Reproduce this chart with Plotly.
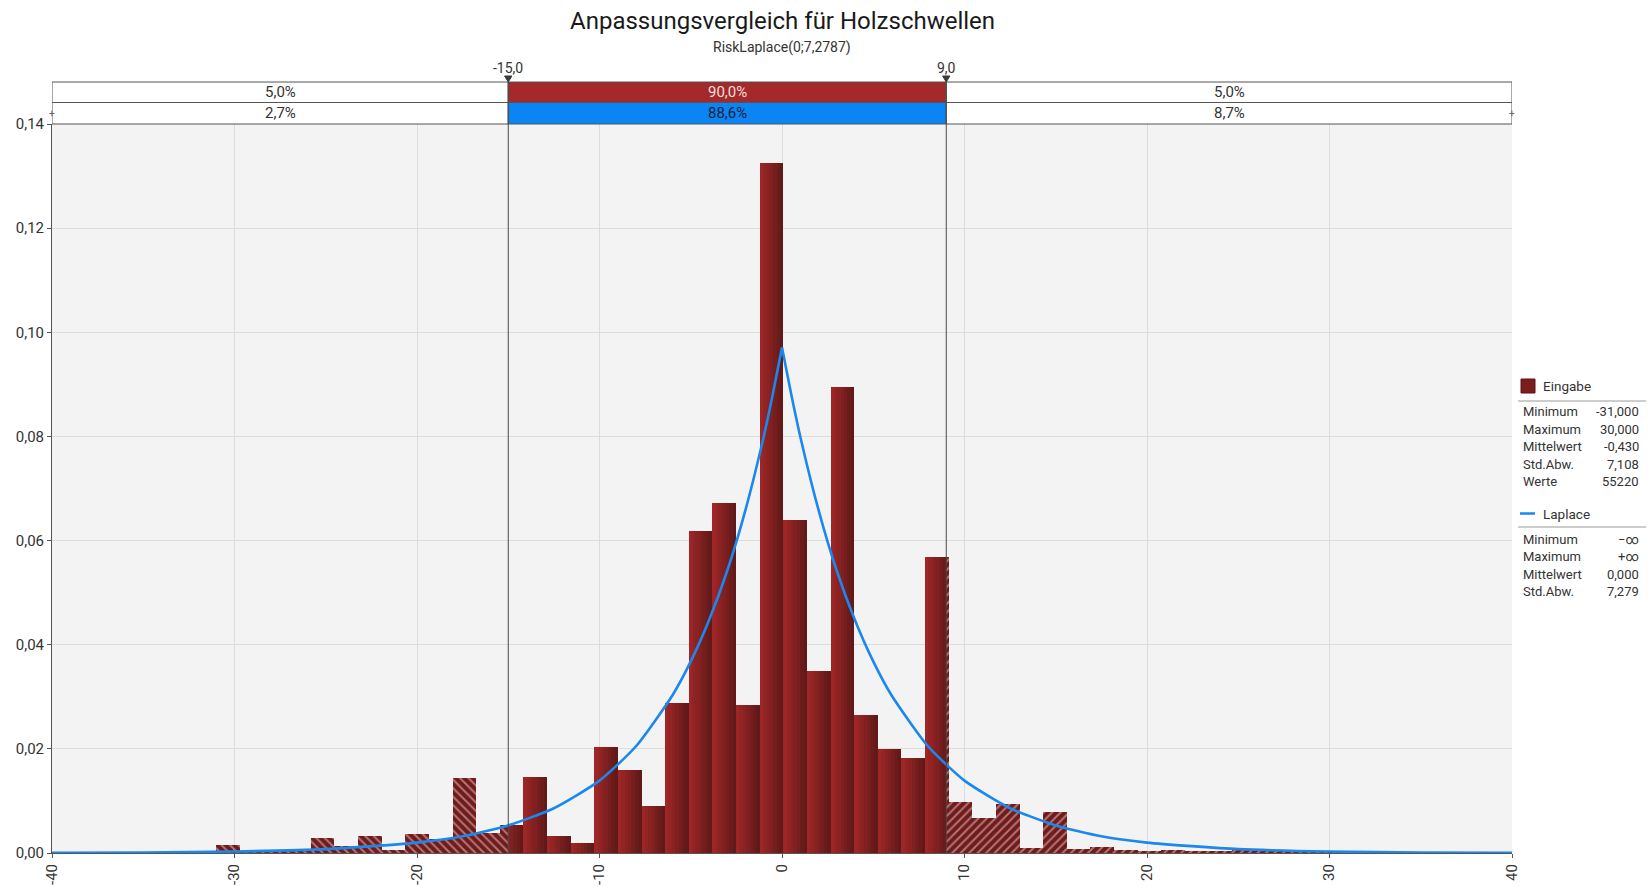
import plotly.graph_objects as go

# ---------------- data ----------------
# Histogram of the input values (density per bin)
bin_start = -31.0
bin_width = 1.2946
densities = [0.0015, 0.0002, 0.0003, 0.0003, 0.0029, 0.0013, 0.0032, 0.0006,
             0.0037, 0.0027, 0.0144, 0.0038, 0.0053, 0.0146, 0.0033, 0.0019,
             0.0203, 0.0160, 0.0091, 0.0289, 0.0618, 0.0672, 0.0284, 0.1326,
             0.0639, 0.0349, 0.0895, 0.0265, 0.0199, 0.0182, 0.0568, 0.0097,
             0.0067, 0.0095, 0.0010, 0.0079, 0.0008, 0.0012, 0.0006, 0.0002,
             0.0006, 0.0003, 0.0002, 0.0008, 0.0004, 0.0002, 0.0001, 0.0002]

# Fitted Laplace density curve
curve_x = [-40, -35, -30, -25, -20, -17.5, -15, -12.5, -10, -8, -6, -5, -4, -3, -2, -1, -0.5, 0,
           0.5, 1, 2, 3, 4, 5, 6, 8, 10, 12.5, 15, 17.5, 20, 25, 30, 35, 40]
curve_y = [0.00004, 0.00011, 0.00029, 0.00075, 0.0020, 0.0032, 0.0053, 0.0086, 0.0139, 0.0205,
           0.0303, 0.0368, 0.0447, 0.0542, 0.0659, 0.0800, 0.0882, 0.0971,
           0.0882, 0.0800, 0.0659, 0.0542, 0.0447, 0.0368, 0.0303, 0.0205, 0.0139, 0.0086,
           0.0053, 0.0032, 0.0020, 0.00075, 0.00029, 0.00011, 0.00004]

# Delimiters and the share of each region
lower_limit = -15.0
upper_limit = 9.0
limit_labels = ["-15,0", "9,0"]
input_shares = ["5,0%", "90,0%", "5,0%"]
fit_shares = ["2,7%", "88,6%", "8,7%"]

# Axis ticks
x_ticks = [-40, -30, -20, -10, 0, 10, 20, 30, 40]
x_tick_labels = ["-40", "-30", "-20", "-10", "0", "10", "20", "30", "40"]
y_ticks = [0.0, 0.02, 0.04, 0.06, 0.08, 0.10, 0.12, 0.14]
y_tick_labels = ["0,00", "0,02", "0,04", "0,06", "0,08", "0,10", "0,12", "0,14"]

# Statistics panel
input_stat_names = ["Minimum", "Maximum", "Mittelwert", "Std.Abw.", "Werte"]
input_stat_values = ["-31,000", "30,000", "-0,430", "7,108", "55220"]
fit_stat_names = ["Minimum", "Maximum", "Mittelwert", "Std.Abw."]
fit_stat_values = ["\u2212\u221e", "+\u221e", "0,000", "7,279"]

title_text = "Anpassungsvergleich für Holzschwellen"
subtitle_text = "RiskLaplace(0;7,2787)"

# ---------------- styling ----------------
FONT = "Roboto, 'Open Sans', sans-serif"
TXT = "#333333"
RED_BOX = "#a3292a"
BLUE_BOX = "#0b84f5"
LINE_BLUE = "#1a88ee"
HATCH_BG = "#701b1b"
HATCH_FG = "#f4d2d2"
GRAD_LEFT = (158, 38, 38)
GRAD_RIGHT = (98, 25, 25)
N_STRIPS = 7

x_min, x_max = -40, 40
fig_w, fig_h = 1650, 887
m_l, m_r, m_t, m_b = 52, 138, 124, 34
plot_h = fig_h - m_t - m_b
plot_w = fig_w - m_l - m_r


def py(px):
    """Paper y coordinate for a pixel row."""
    return (fig_h - m_b - px) / plot_h


def px_x(px):
    """Paper x coordinate for a pixel column."""
    return (px - m_l) / plot_w


def grad(i):
    t = i / (N_STRIPS - 1)
    c = [round(a + (b - a) * t) for a, b in zip(GRAD_LEFT, GRAD_RIGHT)]
    return "rgb(%d,%d,%d)" % tuple(c)


def label(x, y, text, xref="paper", xanchor="center", size=13, color=TXT):
    return dict(x=x, y=y, xref=xref, yref="paper", text=text, showarrow=False,
                xanchor=xanchor, yanchor="middle",
                font=dict(family=FONT, size=size, color=color))


# ---------------- histogram pieces ----------------
solid = [dict(x=[], y=[], w=[]) for _ in range(N_STRIPS)]
hatch_left = dict(x=[], y=[], w=[])
hatch_right = dict(x=[], y=[], w=[])

for k, h in enumerate(densities):
    a = bin_start + k * bin_width
    b = a + bin_width
    # tails outside the delimiters are hatched
    for (r0, r1, tgt) in [(-1e9, lower_limit, hatch_left), (upper_limit, 1e9, hatch_right)]:
        p0, p1 = max(a, r0), min(b, r1)
        if p1 > p0:
            tgt["x"].append((p0 + p1) / 2)
            tgt["w"].append(p1 - p0)
            tgt["y"].append(h)
    # the middle region is drawn as shaded strips (left light, right dark)
    sw = bin_width / N_STRIPS
    for i in range(N_STRIPS):
        s0 = a + i * sw
        s1 = s0 + sw
        p0, p1 = max(s0, lower_limit), min(s1, upper_limit)
        if p1 > p0:
            solid[i]["x"].append((p0 + p1) / 2)
            solid[i]["w"].append(p1 - p0 + 0.004)
            solid[i]["y"].append(h)

fig = go.Figure()

for i, s in enumerate(solid):
    fig.add_trace(go.Bar(x=s["x"], y=s["y"], width=s["w"],
                         marker=dict(color=grad(i), line=dict(width=0)),
                         hoverinfo="skip", showlegend=False))

for tgt, shape in [(hatch_left, "\\"), (hatch_right, "/")]:
    fig.add_trace(go.Bar(x=tgt["x"], y=tgt["y"], width=tgt["w"],
                         marker=dict(color=HATCH_BG, line=dict(width=0),
                                     pattern=dict(shape=shape, fillmode="overlay",
                                                  fgcolor=HATCH_FG, size=6, solidity=0.32)),
                         hoverinfo="skip", showlegend=False))

# Laplace density, drawn as two smooth halves meeting at the peak
peak = curve_y.index(max(curve_y))
for xs, ys in [(curve_x[:peak + 1], curve_y[:peak + 1]), (curve_x[peak:], curve_y[peak:])]:
    fig.add_trace(go.Scatter(x=xs, y=ys, mode="lines",
                             line=dict(color=LINE_BLUE, width=2.6, shape="spline", smoothing=0.6),
                             hoverinfo="skip", showlegend=False))

shapes = []
annotations = []

# ---------------- delimiter boxes ----------------
row1_top, row_mid, row2_bot = py(82), py(102.5), 1.0
edges = [x_min, lower_limit, upper_limit, x_max]
for j in range(3):
    x0, x1 = edges[j], edges[j + 1]
    fill1 = RED_BOX if j == 1 else "white"
    fill2 = BLUE_BOX if j == 1 else "white"
    shapes.append(dict(type="rect", xref="x", yref="paper", x0=x0, x1=x1, y0=row_mid, y1=row1_top,
                       fillcolor=fill1, line=dict(color="#555555", width=1), layer="above"))
    shapes.append(dict(type="rect", xref="x", yref="paper", x0=x0, x1=x1, y0=row2_bot, y1=row_mid,
                       fillcolor=fill2, line=dict(color="#555555", width=1), layer="above"))
    annotations.append(label((x0 + x1) / 2, (row_mid + row1_top) / 2, input_shares[j], xref="x",
                             size=15, color="#f4dede" if j == 1 else TXT))
    annotations.append(label((x0 + x1) / 2, (row2_bot + row_mid) / 2, fit_shares[j], xref="x",
                             size=15, color="#1a2233" if j == 1 else TXT))

# small end markers on the lower row
for xe in [x_min, x_max]:
    annotations.append(label(xe, (row2_bot + row_mid) / 2, "+", xref="x", size=10, color="#666666"))

# delimiter lines, markers and labels
for xv, lab in zip([lower_limit, upper_limit], limit_labels):
    shapes.append(dict(type="line", xref="x", yref="paper", x0=xv, x1=xv, y0=0, y1=row1_top,
                       line=dict(color="#4a4a4a", width=1), layer="above"))
    shapes.append(dict(type="path", xref="x", yref="paper",
                       path="M %f,%f L %f,%f L %f,%f Z" % (xv - 0.2, py(76), xv + 0.2, py(76), xv, py(82)),
                       fillcolor="#3a3a3a", line=dict(color="#3a3a3a", width=1), layer="above"))
    annotations.append(label(xv, py(68), lab, xref="x", size=14))

# ---------------- titles ----------------
annotations.append(label(0.5, py(21), title_text, size=24, color="#1a1a1a"))
annotations.append(label(0.5, py(47), subtitle_text, size=14))

# ---------------- statistics panel ----------------
lx, vx = px_x(1521), px_x(1641)
sep0, sep1 = px_x(1518), px_x(1646)

shapes.append(dict(type="rect", xref="paper", yref="paper", x0=px_x(1521), x1=px_x(1535),
                   y0=py(393), y1=py(379), fillcolor="#7a1d1d", line=dict(color="#5a1414", width=1)))
annotations.append(label(px_x(1541), py(386), "Eingabe", xanchor="left", size=13.5))
shapes.append(dict(type="line", xref="paper", yref="paper", x0=sep0, x1=sep1, y0=py(401), y1=py(401),
                   line=dict(color="#9a9a9a", width=1)))
for i, (n, v) in enumerate(zip(input_stat_names, input_stat_values)):
    yy = py(411.5 + i * 17.6)
    annotations.append(label(lx, yy, n, xanchor="left"))
    annotations.append(label(vx, yy, v, xanchor="right"))

shapes.append(dict(type="line", xref="paper", yref="paper", x0=px_x(1520), x1=px_x(1535),
                   y0=py(513.5), y1=py(513.5), line=dict(color=LINE_BLUE, width=2.5)))
annotations.append(label(px_x(1541), py(513.5), "Laplace", xanchor="left", size=13.5))
shapes.append(dict(type="line", xref="paper", yref="paper", x0=sep0, x1=sep1, y0=py(527), y1=py(527),
                   line=dict(color="#9a9a9a", width=1)))
for i, (n, v) in enumerate(zip(fit_stat_names, fit_stat_values)):
    yy = py(539 + i * 17.6)
    annotations.append(label(lx, yy, n, xanchor="left"))
    annotations.append(label(vx, yy, v, xanchor="right"))

# ---------------- layout ----------------
fig.update_layout(
    width=fig_w, height=fig_h,
    margin=dict(l=m_l, r=m_r, t=m_t, b=m_b, pad=0, autoexpand=False),
    paper_bgcolor="white", plot_bgcolor="#f3f3f3",
    barmode="overlay", bargap=0,
    showlegend=False,
    font=dict(family=FONT, size=14, color=TXT),
    shapes=shapes, annotations=annotations,
    xaxis=dict(range=[x_min, x_max], tickvals=x_ticks, ticktext=x_tick_labels, tickangle=-90,
               automargin=False,
               showgrid=True, gridcolor="#dcdcdc", gridwidth=1, zeroline=False,
               showline=True, linecolor="#555555", linewidth=1,
               ticks="outside", ticklen=4, tickcolor="#555555",
               tickfont=dict(family=FONT, size=15, color=TXT), fixedrange=True),
    yaxis=dict(range=[0, 0.14], tickvals=y_ticks, ticktext=y_tick_labels,
               automargin=False,
               showgrid=True, gridcolor="#dcdcdc", gridwidth=1, zeroline=False,
               showline=True, linecolor="#555555", linewidth=1,
               ticks="outside", ticklen=4, tickcolor="#555555",
               tickfont=dict(family=FONT, size=15, color=TXT), fixedrange=True),
)

fig.write_html("out.html", config={"displayModeBar": False})
